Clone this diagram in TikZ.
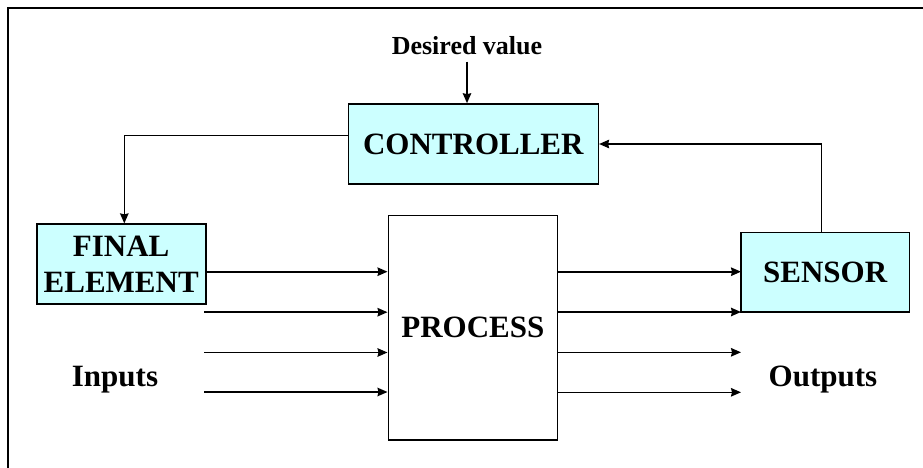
\documentclass[tikz,border=0pt]{standalone}
\usepackage{fontspec}
\setmainfont{Liberation Serif}
\usetikzlibrary{arrows.meta}

\tikzset{
  blk/.style={draw=black, line width=1.6pt, inner sep=0pt, align=center,
    font=\bfseries\fontsize{31}{36.7}\selectfont},
  cyanblk/.style={blk, fill=boxcyan},
  lbl/.style={inner sep=0pt, anchor=base, font=\bfseries\fontsize{31}{36.7}\selectfont},
  arr/.style={line width=1.6pt, -{Stealth[length=10pt,width=8.5pt,inset=1pt]}}
}
\definecolor{boxcyan}{HTML}{CCFFFF}

\begin{document}
\begin{tikzpicture}[x=1pt,y=-1pt]
\useasboundingbox (0,0) rectangle (923,468);

% outer frame (runs off the right and bottom edges)
\draw[line width=2pt] (8.3,468) -- (8.3,8.3) -- (923,8.3);

% blocks
\node[cyanblk, minimum width=250pt, minimum height=80pt] (ctl) at (473.3,144) {CONTROLLER};
\node[cyanblk, minimum width=169pt, minimum height=80pt] (fe) at (121.2,264.2) {FINAL\\ELEMENT};
\node[blk, fill=white, minimum width=169pt, minimum height=224.3pt] (proc) at (472.8,327.8) {PROCESS};
\node[cyanblk, minimum width=168.3pt, minimum height=79.4pt] (sen) at (825.2,272) {SENSOR};

% labels
\node[inner sep=0pt, anchor=base, font=\bfseries\fontsize{26}{30}\selectfont] (dvtxt) at (467,55) {Desired value};
\node[lbl] (intxt) at (115,386.7) {Inputs};
\node[lbl] (outtxt) at (823,386.7) {Outputs};

% set-point arrow into the controller
\coordinate (dv) at (467,61.7);
\draw[arr] (dv) -- (dv |- ctl.north);

% controller output down to the final element
\coordinate (c1) at (124.3,135.7);
\draw[arr] (ctl.west |- c1) -- (c1) -- (c1 |- fe.north);

% sensor feedback to the controller
\coordinate (fb) at (821.3,144);
\draw[arr] (fb |- sen.north) -- (fb) -- (ctl.east |- fb);

% process inputs
\coordinate (i1) at (205.7,271.7);
\coordinate (i2) at (204.3,312.2);
\coordinate (i3) at (204.3,352.5);
\coordinate (i4) at (204.3,392);
\foreach \c in {i1,i2,i3,i4} \draw[arr] (\c) -- (\c -| proc.west);

% process outputs
\coordinate (o1) at (741,271.7);
\coordinate (o2) at (741,312);
\coordinate (o3) at (741,352.3);
\coordinate (o4) at (741,392.3);
\foreach \c in {o1,o2,o3,o4} \draw[arr] (proc.east |- \c) -- (\c);
\end{tikzpicture}
\end{document}
